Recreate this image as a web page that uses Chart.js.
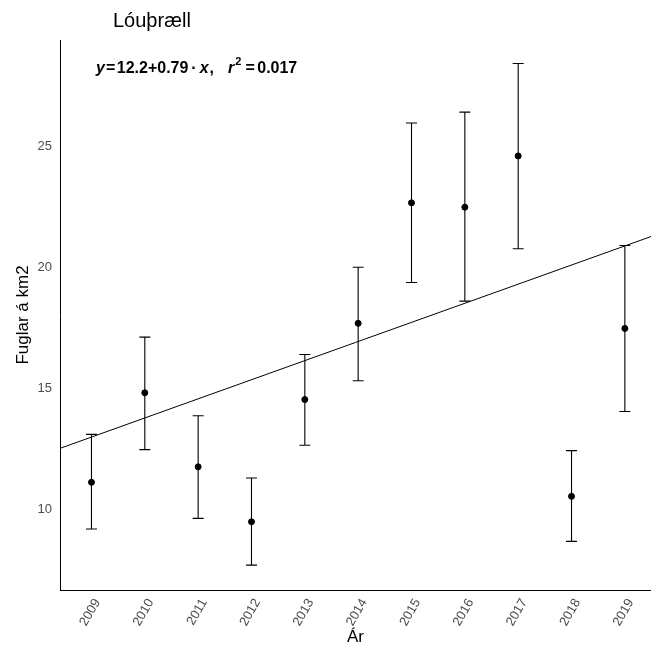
<!DOCTYPE html>
<html>
<head>
<meta charset="utf-8">
<script src="https://cdn.jsdelivr.net/npm/chart.js@4.4.1/dist/chart.umd.min.js"></script>
<style>
  html, body { margin: 0; padding: 0; background: #fff; overflow: hidden; }
  #wrap { width: 651px; height: 648px; }
  canvas { display: block; }
</style>
</head>
<body>
<div id="wrap"><canvas id="chart" width="651" height="648"></canvas></div>
<script>
// data
const years = [2009, 2010, 2011, 2012, 2013, 2014, 2015, 2016, 2017, 2018, 2019];
const means = [11.12, 14.82, 11.76, 9.49, 14.54, 17.69, 22.67, 22.49, 24.61, 10.54, 17.48];
const upper = [13.10, 17.12, 13.87, 11.30, 16.40, 20.01, 25.97, 26.42, 28.43, 12.43, 20.91];
const lower = [9.19, 12.47, 9.63, 7.70, 12.65, 15.32, 19.38, 18.61, 20.77, 8.68, 14.05];
const yTicks = [10, 15, 20, 25];

// fit shown in the label (x = years since 2008)
const intercept = 12.2;
const slope = 0.79;
const xMin = 2008.41, xMax = 2019.49;
const fitLine = [xMin, xMax].map(x => ({ x: x, y: intercept + slope * (x - 2008) }));

const tickGrey = '#4D4D4D';
const font = '"Liberation Sans", Arial, sans-serif';

// error bars with caps
const errorBars = {
    id: 'errorBars',
    afterDatasetsDraw(chart) {
        const { ctx, scales: { x, y } } = chart;
        ctx.save();
        ctx.strokeStyle = '#000';
        ctx.lineWidth = 1.1;
        years.forEach((yr, i) => {
            const px = x.getPixelForValue(yr);
            const top = y.getPixelForValue(upper[i]);
            const bot = y.getPixelForValue(lower[i]);
            ctx.beginPath();
            ctx.moveTo(px, top); ctx.lineTo(px, bot);
            ctx.moveTo(px - 5.5, top); ctx.lineTo(px + 5.5, top);
            ctx.moveTo(px - 5.5, bot); ctx.lineTo(px + 5.5, bot);
            ctx.stroke();
        });
        ctx.restore();
    }
};

// title and equation label
const labels = {
    id: 'labels',
    afterDraw(chart) {
        const ctx = chart.ctx;
        ctx.save();
        ctx.fillStyle = '#000';
        ctx.textBaseline = 'alphabetic';
        ctx.font = '20px ' + font;
        ctx.fillText('Lóuþræll', 113, 27);

        // plotmath-like spacing: gap is space before the piece
        const bold = 'bold 16px ' + font;
        const ital = 'italic bold 16px ' + font;
        const parts = [
            { t: 'y', f: ital, gap: 0 },
            { t: '=', f: bold, gap: 1 },
            { t: '12.2+0.79', f: bold, gap: 1.5 },
            { t: '\u00B7', f: bold, gap: 3 },
            { t: 'x', f: ital, gap: 3 },
            { t: ',', f: bold, gap: 1 },
            { t: 'r', f: ital, gap: 14 },
            { t: '2', f: 'bold 11px ' + font, gap: 1, sup: true },
            { t: '=', f: bold, gap: 4 },
            { t: '0.017', f: bold, gap: 2.5 }
        ];
        let cx = 96;
        parts.forEach(p => {
            ctx.font = p.f;
            cx += p.gap;
            ctx.fillText(p.t, cx, p.sup ? 65 : 72.5);
            cx += ctx.measureText(p.t).width;
        });
        ctx.restore();
    }
};

new Chart(document.getElementById('chart'), {
    type: 'scatter',
    data: {
        datasets: [
            {
                label: 'fit',
                type: 'line',
                data: fitLine,
                borderColor: '#000',
                borderWidth: 1,
                pointRadius: 0,
                fill: false
            },
            {
                label: 'Fuglar',
                data: years.map((yr, i) => ({ x: yr, y: means[i] })),
                backgroundColor: '#000',
                borderColor: '#000',
                pointRadius: 3,
                pointHoverRadius: 3
            }
        ]
    },
    options: {
        responsive: false,
        animation: false,
        layout: { autoPadding: false, padding: { top: 40, right: 0, left: 0, bottom: 0 } },
        plugins: {
            legend: { display: false },
            tooltip: { enabled: false }
        },
        scales: {
            x: {
                type: 'linear',
                min: xMin,
                max: xMax,
                afterBuildTicks: s => { s.ticks = years.map(v => ({ value: v })); },
                afterFit: s => { s.height = 58; s.paddingLeft = 0; s.paddingRight = 0; },
                grid: { display: false, drawTicks: true, tickLength: 4, tickColor: '#333' },
                border: { display: true, color: '#000', width: 1 },
                ticks: {
                    color: tickGrey,
                    font: { family: font, size: 13 },
                    minRotation: 60,
                    maxRotation: 60,
                    padding: 2,
                    labelOffset: 6,
                    callback: v => String(v)
                },
                title: {
                    display: true,
                    text: 'Ár',
                    color: '#000',
                    font: { family: font, size: 17 },
                    padding: { top: 0, bottom: 0 }
                }
            },
            y: {
                min: 6.67,
                max: 29.4,
                afterBuildTicks: s => { s.ticks = yTicks.map(v => ({ value: v })); },
                afterFit: s => { s.width = 60; },
                grid: { display: false, drawTicks: true, tickLength: 5, tickColor: '#333' },
                border: { display: true, color: '#000', width: 1 },
                ticks: {
                    color: tickGrey,
                    font: { family: font, size: 13 },
                    padding: 3
                },
                title: {
                    display: true,
                    text: 'Fuglar á km2',
                    color: '#000',
                    font: { family: font, size: 17 },
                    padding: { top: 13, bottom: 0 }
                }
            }
        }
    },
    plugins: [errorBars, labels]
});
</script>
</body>
</html>
